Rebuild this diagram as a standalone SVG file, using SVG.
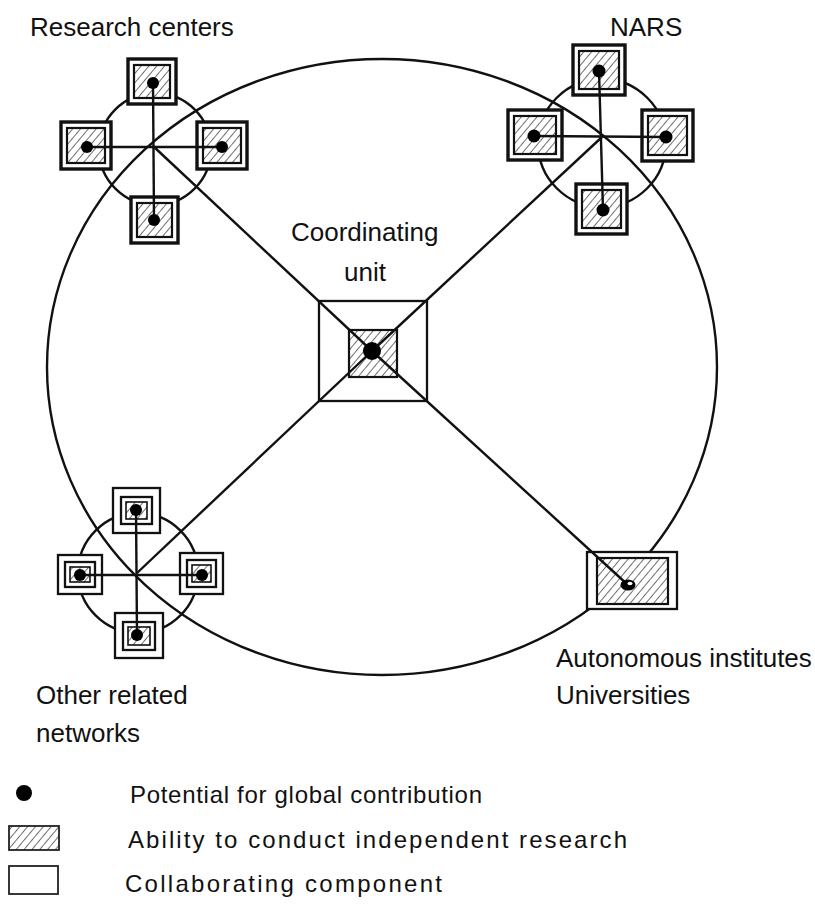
<svg xmlns="http://www.w3.org/2000/svg" width="815" height="907" viewBox="0 0 815 907">
<defs>
<pattern id="hatch" width="6" height="6" patternUnits="userSpaceOnUse" patternTransform="rotate(40)">
<line x1="0" y1="0" x2="0" y2="6" stroke="#222" stroke-width="1.3"/>
</pattern>
</defs>
<style>
.ln{stroke:#111;stroke-width:2.4;fill:none}
.sqo{fill:#fff;stroke:#111;stroke-width:3.4}
.sqi{fill:url(#hatch);stroke:#111;stroke-width:2.2}
.cso{fill:#fff;stroke:#111;stroke-width:2.3}
.csm{fill:none;stroke:#111;stroke-width:2.3}
.csi{fill:url(#hatch);stroke:#111;stroke-width:1.6}
.dot{fill:#000}
text{font-family:"Liberation Sans",Arial,sans-serif;font-size:26px;fill:#111}
.lg{font-size:24px}
</style>
<rect width="815" height="907" fill="#fff"/>

<g id="network-ring">
<ellipse class="ln" cx="382" cy="367" rx="335" ry="308"/>
</g>

<g id="research-centers">
<circle class="ln" cx="155" cy="149" r="56"/>
<rect class="sqo" x="128" y="59" width="48" height="45"/><rect class="sqi" x="134" y="65" width="36" height="33"/>
<rect class="sqo" x="61" y="122" width="50" height="47"/><rect class="sqi" x="67" y="128" width="38" height="35"/>
<rect class="sqo" x="197" y="122" width="50" height="47"/><rect class="sqi" x="203" y="128" width="38" height="35"/>
<rect class="sqo" x="131" y="197" width="47" height="46"/><rect class="sqi" x="137" y="203" width="35" height="34"/>
<line class="ln" x1="153" y1="83" x2="154" y2="220"/>
<line class="ln" x1="87" y1="147" x2="222" y2="147"/>
<circle class="dot" cx="153" cy="83" r="6"/><circle class="dot" cx="87" cy="147" r="6"/>
<circle class="dot" cx="222" cy="147" r="6"/><circle class="dot" cx="154" cy="220" r="6"/>
<text x="30" y="36">Research centers</text>
</g>

<g id="nars">
<circle class="ln" cx="602" cy="143" r="64"/>
<rect class="sqo" x="573" y="45" width="52" height="50"/><rect class="sqi" x="579" y="51" width="40" height="38"/>
<rect class="sqo" x="508" y="110" width="54" height="50"/><rect class="sqi" x="514" y="116" width="42" height="38"/>
<rect class="sqo" x="642" y="110" width="51" height="51"/><rect class="sqi" x="648" y="116" width="39" height="39"/>
<rect class="sqo" x="576" y="184" width="51" height="50"/><rect class="sqi" x="582" y="190" width="39" height="38"/>
<line class="ln" x1="599" y1="71" x2="603" y2="210"/>
<line class="ln" x1="534" y1="136" x2="666" y2="137"/>
<circle class="dot" cx="599" cy="71" r="6.5"/><circle class="dot" cx="534" cy="136" r="6.5"/>
<circle class="dot" cx="666" cy="137" r="6.5"/><circle class="dot" cx="603" cy="210" r="6.5"/>
<text x="610" y="36">NARS</text>
</g>

<g id="other-networks">
<circle class="ln" cx="138" cy="573" r="60"/>
<rect class="cso" x="113" y="488" width="47" height="45"/><rect class="csm" x="121" y="497" width="31" height="27"/><rect class="csi" x="126" y="502" width="21" height="17"/>
<rect class="cso" x="58" y="555" width="44" height="39"/><rect class="csm" x="65" y="562" width="30" height="25"/><rect class="csi" x="70" y="567" width="20" height="15"/>
<rect class="cso" x="180" y="553" width="43" height="41"/><rect class="csm" x="187" y="560" width="29" height="27"/><rect class="csi" x="192" y="565" width="19" height="17"/>
<rect class="cso" x="115" y="613" width="48" height="45"/><rect class="csm" x="123" y="622" width="32" height="28"/><rect class="csi" x="128" y="627" width="22" height="18"/>
<line class="ln" x1="136" y1="510" x2="137" y2="635"/>
<line class="ln" x1="80" y1="575" x2="202" y2="575"/>
<circle class="dot" cx="136" cy="510" r="6"/><circle class="dot" cx="80" cy="575" r="6"/>
<circle class="dot" cx="202" cy="575" r="6"/><circle class="dot" cx="137" cy="635" r="6"/>
<text x="36" y="704">Other related</text>
<text x="36" y="742">networks</text>
</g>

<g id="coordinating-unit">
<rect class="cso" x="319" y="301" width="108" height="100" stroke-width="2.7"/>
<rect class="sqi" x="349" y="330" width="48" height="47" stroke-width="2.7"/>
<text x="291" y="241">Coordinating</text>
<text x="344" y="281">unit</text>
</g>

<g id="autonomous">
<rect class="cso" x="587" y="552" width="90" height="57" stroke-width="2.7"/>
<rect class="sqi" x="597" y="558" width="71" height="46" stroke-width="2.7"/>
<text x="556" y="667">Autonomous institutes</text>
<text x="556" y="704">Universities</text>
</g>

<g id="connectors">
<line class="ln" x1="372" y1="351" x2="153" y2="146"/>
<line class="ln" x1="372" y1="351" x2="602" y2="137"/>
<line class="ln" x1="372" y1="351" x2="137" y2="573"/>
<line class="ln" x1="372" y1="351" x2="628" y2="585"/>
</g>

<g id="markers">
<circle class="dot" cx="372" cy="351" r="9"/>
<ellipse class="dot" cx="628" cy="585" rx="7.5" ry="5.5"/>
<ellipse fill="#fff" cx="630" cy="583.5" rx="2.5" ry="1.8"/>
</g>

<g id="legend">
<circle class="dot" cx="24" cy="793" r="8"/>
<text class="lg" x="130" y="803" textLength="352" lengthAdjust="spacing">Potential for global contribution</text>
<rect x="9" y="826" width="50" height="24" fill="url(#hatch)" stroke="#222" stroke-width="1.8"/>
<text class="lg" x="128" y="848" textLength="499" lengthAdjust="spacing">Ability to conduct independent research</text>
<rect x="9" y="866" width="49" height="28" fill="#fff" stroke="#222" stroke-width="1.8"/>
<text class="lg" x="125" y="892" textLength="317" lengthAdjust="spacing">Collaborating component</text>
</g>
</svg>
